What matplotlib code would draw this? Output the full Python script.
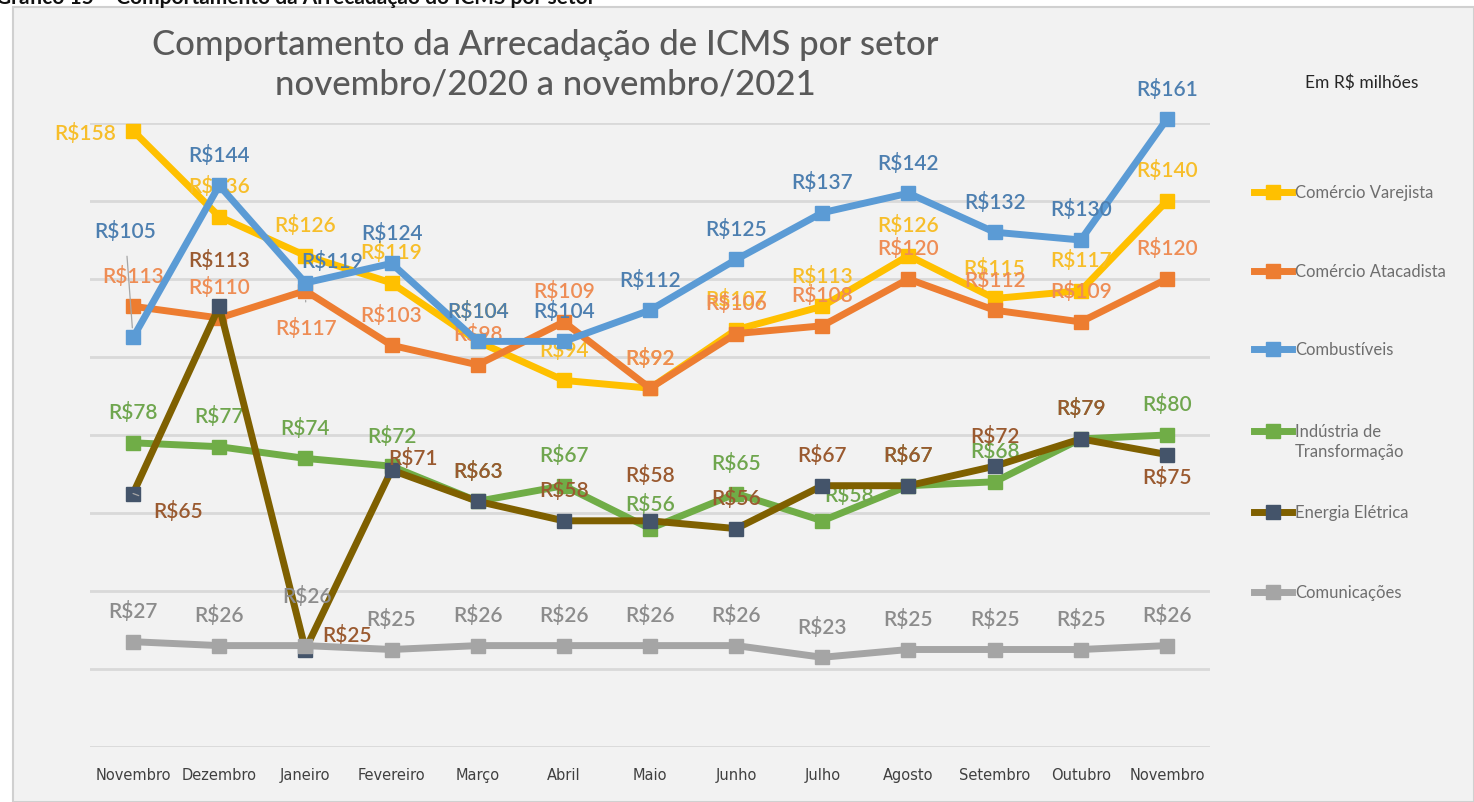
import matplotlib
matplotlib.use("Agg")
import matplotlib.pyplot as plt
from matplotlib.patches import Rectangle
from matplotlib.lines import Line2D

# ---------------- data ----------------
months = ["Novembro", "Dezembro", "Janeiro", "Fevereiro", "Março", "Abril", "Maio",
          "Junho", "Julho", "Agosto", "Setembro", "Outubro", "Novembro"]
series_names = ["Comércio Varejista", "Comércio Atacadista", "Combustíveis",
                "Indústria de\nTransformação", "Energia Elétrica", "Comunicações"]
varejista = [158, 136, 126, 119, 104, 94, 92, 107, 113, 126, 115, 117, 140]
atacadista = [113, 110, 117, 103, 98, 109, 92, 106, 108, 120, 112, 109, 120]
combustiveis = [105, 144, 119, 124, 104, 104, 112, 125, 137, 142, 132, 130, 161]
industria = [78, 77, 74, 72, 63, 67, 56, 65, 58, 67, 68, 79, 80]
energia = [65, 113, 25, 71, 63, 58, 58, 56, 67, 67, 72, 79, 75]
comunicacoes = [27, 26, 26, 25, 26, 26, 26, 26, 23, 25, 25, 25, 26]
all_values = [varejista, atacadista, combustiveis, industria, energia, comunicacoes]

# ---------------- styles ----------------
line_colors = ["#FFC000", "#ED7D31", "#5B9BD5", "#70AD47", "#7F6000", "#A5A5A5"]
marker_faces = ["#FFC000", "#ED7D31", "#5B9BD5", "#70AD47", "#44546A", "#A5A5A5"]
label_colors = ["#F7BE2A", "#EE8D55", "#4D7FB0", "#6FA64E", "#9A5A30", "#8C8C8C"]

# label offsets in pixels (dx, dy up), default above point
DEFAULT_OFF = (0, 31)
label_off = {
    (0, 0): (-48, -2),
    (2, 0): (-8, 107),
    (1, 2): (1, -37),
    (2, 2): (27, 22),
    (4, 0): (45, -17),
    (4, 1): (0, 47),
    (4, 2): (42, 15),
    (4, 3): (21, 13),
    (4, 6): (0, 46),
    (3, 6): (0, 25),
    (3, 8): (27, 26),
    (4, 12): (0, -22),
    (5, 2): (2, 50),
}
leaders = {(2, 0), (1, 2), (4, 0)}

W, H = 1474, 803
FONT = "Lato"

fig = plt.figure(figsize=(W / 100, H / 100), dpi=100, facecolor="white")

def fx(x):
    return x / W

def fy(y):
    return 1 - y / H

# chart area background
fig.patches.append(Rectangle((fx(13), 0), 1 - fx(13), fy(8), transform=fig.transFigure,
                             facecolor="#F2F2F2", edgecolor="#D0D0D0", linewidth=1.5,
                             zorder=-10))

# cut-off caption at very top
fig.text(fx(-4), fy(4), "Gráfico 15 – Comportamento da Arrecadação do ICMS por setor",
         fontsize=15, fontweight="bold", color="#111111", family=FONT, va="baseline", ha="left")

ax = fig.add_axes([fx(90), fy(748), fx(1210) - fx(90), fy(124) - fy(748)])
ax.set_facecolor("none")
ax.set_xlim(-0.5, len(months) - 0.5)
ax.set_ylim(0, 160)
ax.set_yticks(range(0, 161, 20))
ax.grid(axis="y", color="#D9D9D9", linewidth=2)
ax.set_axisbelow(True)
for s in ax.spines.values():
    s.set_visible(False)
ax.tick_params(axis="y", left=False, labelleft=False)
ax.tick_params(axis="x", bottom=False, pad=11)
ax.set_xticks(range(len(months)))
ax.set_xticklabels(months, fontsize=10.5, color="#404040", family="DejaVu Sans")

x = list(range(len(months)))
for i, vals in enumerate(all_values):
    zl = 2 + 2 * i
    ax.plot(x, vals, color=line_colors[i], linewidth=5, marker="s", markersize=10,
            markerfacecolor=marker_faces[i], markeredgecolor=marker_faces[i],
            zorder=zl, clip_on=False, solid_joinstyle="round")
    for j, v in enumerate(vals):
        dx, dy = label_off.get((i, j), DEFAULT_OFF)
        kw = {}
        if (i, j) in leaders:
            kw["arrowprops"] = dict(arrowstyle="-", color="#A6A6A6", lw=0.9,
                                    shrinkA=9, shrinkB=7)
        ax.annotate(f"R${v}", (j, v), xytext=(dx, dy), textcoords="offset pixels",
                    ha="center", va="center", fontsize=15, color=label_colors[i],
                    family=FONT, fontweight="semibold", zorder=zl + 1,
                    annotation_clip=False, **kw)

# title
fig.text(fx(545), fy(45), "Comportamento da Arrecadação de ICMS por setor",
         ha="center", va="center", fontsize=25, color="#595959", family=FONT,
         fontweight="medium")
fig.text(fx(545), fy(85), "novembro/2020 a novembro/2021",
         ha="center", va="center", fontsize=25, color="#595959", family=FONT,
         fontweight="medium")

# units
fig.text(fx(1362), fy(83), "Em R$ milhões", ha="center", va="center", fontsize=12.5,
         color="#262626", family=FONT)

# legend (manual)
leg_y = [193, 272, 350, 432, 513, 593]
for i, name in enumerate(series_names):
    y = leg_y[i]
    fig.add_artist(Line2D([fx(1254), fx(1292)], [fy(y), fy(y)], transform=fig.transFigure,
                          color=line_colors[i], linewidth=5))
    fig.add_artist(Line2D([fx(1273)], [fy(y)], transform=fig.transFigure, marker="s",
                          markersize=10, color=marker_faces[i], linestyle="none"))
    if "\n" in name:
        fig.text(fx(1295), fy(y + 10), name, ha="left", va="center",
                 fontsize=12, color="#6E6E6E", family=FONT, linespacing=1.35)
    else:
        fig.text(fx(1295), fy(y), name, ha="left", va="center",
                 fontsize=12, color="#6E6E6E", family=FONT)

fig.savefig("out.png", dpi=100, facecolor=fig.get_facecolor())
